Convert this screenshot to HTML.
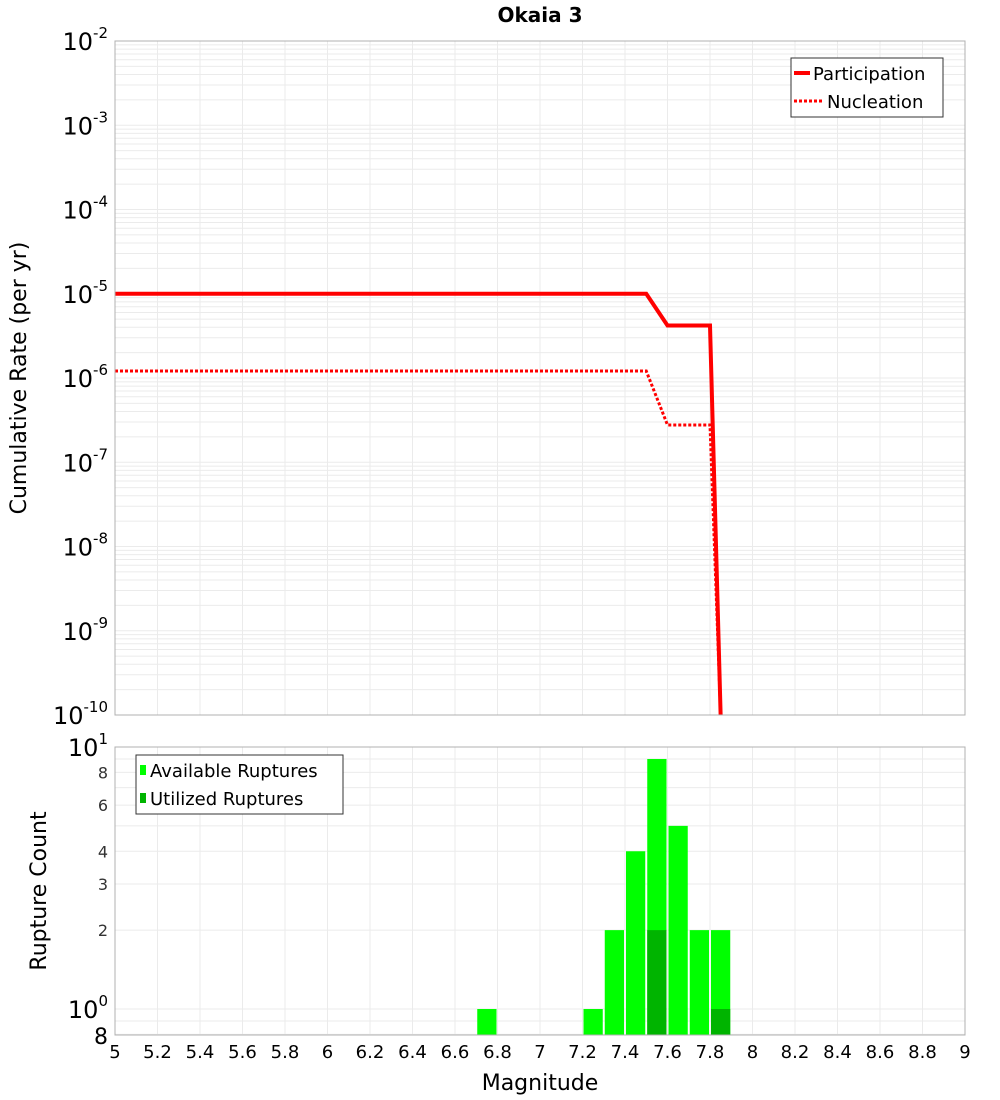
<!DOCTYPE html>
<html><head><meta charset="utf-8"><style>
html,body{margin:0;padding:0;background:#fff;}
svg{display:block;font-family:"DejaVu Sans","Liberation Sans",sans-serif;}
</style></head><body>
<svg id="chart" width="1000" height="1100" viewBox="0 0 1000 1100" xmlns="http://www.w3.org/2000/svg">
<text x="540" y="22" text-anchor="middle" font-size="20" font-weight="bold">Okaia 3</text>
<g id="topg"></g><g id="botg"></g>
<text transform="translate(26,378) rotate(-90)" text-anchor="middle" font-size="22">Cumulative Rate (per yr)</text>
<text transform="translate(46,891) rotate(-90)" text-anchor="middle" font-size="22">Rupture Count</text>
<text x="540" y="1090" text-anchor="middle" font-size="22">Magnitude</text>
</svg>
<script>
const partMags=[5,7.5,7.6,7.8,7.85];
const partRates=[1e-5,1e-5,4.2e-6,4.2e-6,1e-10];
const nuclMags=[5,7.5,7.6,7.8,7.85];
const nuclRates=[1.21e-6,1.21e-6,2.77e-7,2.77e-7,1e-10];
const barMags=[6.75,7.25,7.35,7.45,7.55,7.65,7.75,7.85];
const availCounts=[1,1,2,4,9,5,2,2];
const utilMags=[7.55,7.85];
const utilCounts=[2,1];
const xTicks=[5,5.2,5.4,5.6,5.8,6,6.2,6.4,6.6,6.8,7,7.2,7.4,7.6,7.8,8,8.2,8.4,8.6,8.8,9];
const topExps=[-2,-3,-4,-5,-6,-7,-8,-9,-10];
const botTicks=[8,6,4,3,2];

const NS="http://www.w3.org/2000/svg";
const L=115,R=965,T1=41,B1=715,T2=747,B2=1035;
const xs=m=>L+(m-5)/4*(R-L);
const y1=v=>T1+(-2-Math.log10(v))*(B1-T1)/8;
const y2=v=>T2+(1-Math.log10(v))*262;
function mk(p,t,a){const e=document.createElementNS(NS,t);for(const k in a)e.setAttribute(k,a[k]);p.appendChild(e);return e;}
const topG=document.getElementById('topg'),botG=document.getElementById('botg');

for(let e=-10;e<-2;e++)for(let k=1;k<10;k++){const v=k*Math.pow(10,e);const g=mk(topG,'line',{x1:L,x2:R,y1:y1(v),y2:y1(v),stroke:'#ebebeb','stroke-width':1});

}
xTicks.forEach(m=>{const g=mk(topG,'line',{x1:xs(m),x2:xs(m),y1:T1,y2:B1,stroke:'#ebebeb'});


const g2=mk(botG,'line',{x1:xs(m),x2:xs(m),y1:T2,y2:B2,stroke:'#ebebeb'});

});
topExps.forEach(e=>{const t=mk(topG,'text',{x:108,y:y1(Math.pow(10,e))+9,'text-anchor':'end','font-size':24});


t.innerHTML='10<tspan dy="-12" font-size="15">'+e+'</tspan>';});
function line(p,ms,vs,dash,name){const pts=ms.map((m,i)=>xs(m)+','+Math.min(y1(vs[i]),B1+2)).join(' ');
const l=mk(p,'polyline',{points:pts,fill:'none',stroke:'#ff0000','stroke-width':dash?3:4,'stroke-dasharray':dash?'3,2':'none'});

}
line(topG,partMags,partRates,false,'participation-line');
line(topG,nuclMags,nuclRates,true,'nucleation-line');
const f1=mk(topG,'rect',{x:L,y:T1,width:R-L,height:B1-T1,fill:'none',stroke:'#b0b0b0'});


const lg=mk(topG,'g',{});


mk(lg,'rect',{x:791,y:58,width:152,height:59,fill:'#fff',stroke:'#333'});
mk(lg,'line',{x1:794,x2:810,y1:73,y2:73,stroke:'#f00','stroke-width':4});
mk(lg,'line',{x1:794,x2:822,y1:101,y2:101,stroke:'#f00','stroke-width':3,'stroke-dasharray':'3,2'});
mk(lg,'text',{x:813,y:80,'font-size':18}).textContent='Participation';
mk(lg,'text',{x:827,y:108,'font-size':18}).textContent='Nucleation';

[0.8,0.9,1,2,3,4,5,6,7,8,9,10].forEach(v=>{const g=mk(botG,'line',{x1:L,x2:R,y1:y2(v),y2:y2(v),stroke:'#ebebeb'});

});
const bw=xs(5.1)-xs(5);
barMags.forEach((m,i)=>{const r=mk(botG,'rect',{x:xs(m)-bw/2+1,y:y2(availCounts[i]),width:bw-2,height:B2-y2(availCounts[i]),fill:'#00ff00'});

});
utilMags.forEach((m,i)=>{const r=mk(botG,'rect',{x:xs(m)-bw/2+1,y:y2(utilCounts[i]),width:bw-2,height:B2-y2(utilCounts[i]),fill:'#00b400'});

});
const f2=mk(botG,'rect',{x:L,y:T2,width:R-L,height:B2-T2,fill:'none',stroke:'#b0b0b0'});


botTicks.forEach(v=>{const t=mk(botG,'text',{x:108,y:y2(v)+6,'text-anchor':'end','font-size':16,fill:'#333'});


t.textContent=v;});
[[10,1],[1,0]].forEach(([v,e])=>{const t=mk(botG,'text',{x:108,y:y2(v)+9,'text-anchor':'end','font-size':24});


t.innerHTML='10<tspan dy="-12" font-size="15">'+e+'</tspan>';});
const t8=mk(botG,'text',{x:108,y:B2+9,'text-anchor':'end','font-size':22});


t8.textContent='8';
xTicks.forEach(m=>{const t=mk(botG,'text',{x:xs(m),y:1058,'text-anchor':'middle','font-size':18});


t.textContent=String(m);});
const lg2=mk(botG,'g',{});


mk(lg2,'rect',{x:136,y:755,width:207,height:59,fill:'#fff',stroke:'#333'});
mk(lg2,'rect',{x:140,y:765,width:6,height:10,fill:'#00ff00'});
mk(lg2,'rect',{x:140,y:793,width:6,height:10,fill:'#00b400'});
mk(lg2,'text',{x:150,y:777,'font-size':18}).textContent='Available Ruptures';
mk(lg2,'text',{x:150,y:805,'font-size':18}).textContent='Utilized Ruptures';
</script>
</body></html>
